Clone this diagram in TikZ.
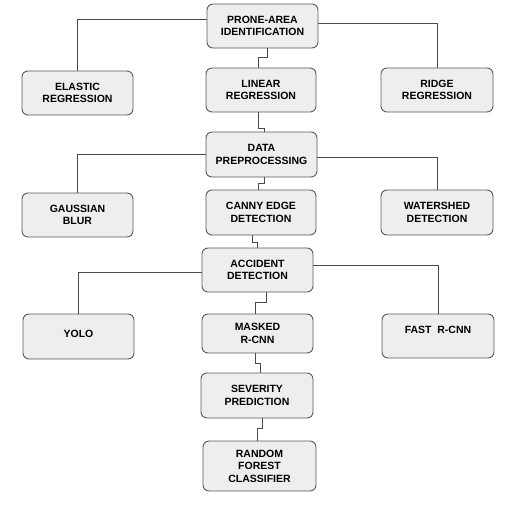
\documentclass[tikz,border=0pt]{standalone}
\usepackage{fontspec}
\setmainfont{Liberation Sans}
\usepackage{xcolor}
\usetikzlibrary{positioning}
\definecolor{BoxFill}{HTML}{EEEEEE}
\definecolor{BoxLine}{HTML}{5A5A5A}
\definecolor{WireCol}{HTML}{4A4A4A}
\begin{document}
\begin{tikzpicture}[
					%Environment config
					x=1pt,y=-1pt,
					font=\bfseries\fontsize{10.5}{12.5}\selectfont,
					%Environment styles
					BoxCfg/.style={
						draw=BoxLine,
						fill=BoxFill,
						line width=0.9pt,
						rounded corners=6pt,
						align=center,
						inner sep=2pt,
						minimum width=111pt,
						minimum height=44pt
					},
					WireCfg/.style={
						draw=WireCol,
						line width=0.8pt
					}
					]
					\useasboundingbox (0,0) rectangle (512,506);
					\path
					(262.5,26) node[BoxCfg](PRONE){PRONE-AREA\\IDENTIFICATION}
					(77.5,93) node[BoxCfg](ELASTIC){ELASTIC\\REGRESSION}
					(261,90) node[BoxCfg,minimum width=110pt](LINEAR){LINEAR\\REGRESSION}
					(437,90) node[BoxCfg,minimum width=112pt](RIDGE){RIDGE\\REGRESSION}
					(261.5,154.5) node[BoxCfg,minimum height=45pt](DATA){DATA\\PREPROCESSING}
					(77.5,215) node[BoxCfg](GAUSS){GAUSSIAN\\BLUR}
					(261,212.5) node[BoxCfg,minimum width=110pt,minimum height=45pt](CANNY){CANNY EDGE\\DETECTION}
					(437,212.5) node[BoxCfg,minimum width=112pt,minimum height=45pt](WATER){WATERSHED\\DETECTION}
					(257.5,270) node[BoxCfg](ACC){ACCIDENT\\DETECTION}
					(78.5,336.5) node[BoxCfg,minimum height=45pt](YOLO){\raisebox{3pt}[\height][\depth]{YOLO}}
					(257.5,333.5) node[BoxCfg,minimum height=39pt](MASK){MASKED\\R-CNN}
					(438,336) node[BoxCfg,minimum width=112pt](FAST){\raisebox{6pt}[\height][\depth]{FAST\hspace{0.55em}R-CNN}}
					(257,395.5) node[BoxCfg,minimum width=112pt,minimum height=45pt](SEV){SEVERITY\\PREDICTION}
					(259.5,466) node[BoxCfg,minimum width=113pt,minimum height=50pt](RF){RANDOM\\FOREST\\CLASSIFIER};
					
					\draw[WireCfg]
					([yshift=7pt]PRONE.west) -| (ELASTIC.north)
					([yshift=3pt]PRONE.east) -| (RIDGE.north)
					([xshift=4.5pt]PRONE.south) -- ++(0,9) -| ([xshift=-3pt]LINEAR.north)
					([xshift=-3pt]LINEAR.south) -- ++(0,16) -| ([xshift=2.5pt]DATA.north)
					(DATA.west) -| (GAUSS.north)
					([yshift=-2.5pt]DATA.east) -| (WATER.north)
					([xshift=2.5pt]DATA.south) -- ++(0,6) -| ([xshift=-3pt]CANNY.north)
					([xshift=-9pt]CANNY.south) -- ++(0,7) -| (ACC.north)
					([yshift=-2pt]ACC.west) -| (YOLO.north)
					([yshift=5pt]ACC.east) -| (FAST.north)
					([xshift=8.5pt]ACC.south) -- ++(0,10) -| ([xshift=-2.5pt]MASK.north)
					([xshift=-2.5pt]MASK.south) -- ++(0,10) -| ([xshift=3pt]SEV.north)
					([xshift=5pt]SEV.south) -- ++(0,10) -| ([xshift=-2.5pt]RF.north);
				\end{tikzpicture}
\end{document}
